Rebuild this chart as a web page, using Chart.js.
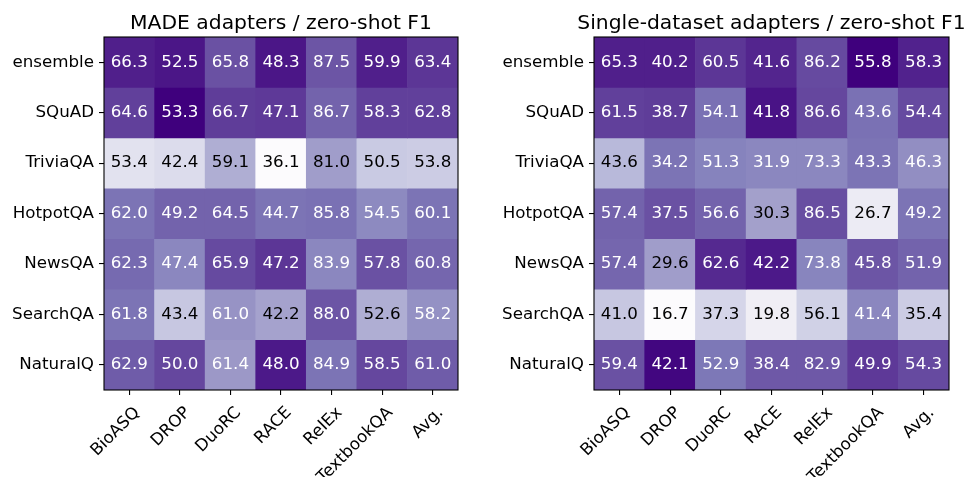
<!DOCTYPE html>
<html>
<head>
<meta charset="utf-8">
<script src="https://cdn.jsdelivr.net/npm/chart.js@4.4.0/dist/chart.umd.min.js"></script>
<style>
  body { margin: 0; background: #fff; }
  .wrap { position: absolute; top: 0; height: 477px; }
</style>
</head>
<body>
<div class="wrap" style="left:0;width:484px"><canvas id="madeChart"></canvas></div>
<div class="wrap" style="left:484px;width:483px"><canvas id="singleChart"></canvas></div>
<script>
const targets = ["BioASQ", "DROP", "DuoRC", "RACE", "RelEx", "TextbookQA", "Avg."];
const sources = ["ensemble", "SQuAD", "TriviaQA", "HotpotQA", "NewsQA", "SearchQA", "NaturalQ"];

// zero-shot F1, rows = sources, cols = targets
const madeF1 = [
  [66.3, 52.5, 65.8, 48.3, 87.5, 59.9, 63.4],
  [64.6, 53.3, 66.7, 47.1, 86.7, 58.3, 62.8],
  [53.4, 42.4, 59.1, 36.1, 81.0, 50.5, 53.8],
  [62.0, 49.2, 64.5, 44.7, 85.8, 54.5, 60.1],
  [62.3, 47.4, 65.9, 47.2, 83.9, 57.8, 60.8],
  [61.8, 43.4, 61.0, 42.2, 88.0, 52.6, 58.2],
  [62.9, 50.0, 61.4, 48.0, 84.9, 58.5, 61.0],
];
const singleF1 = [
  [65.3, 40.2, 60.5, 41.6, 86.2, 55.8, 58.3],
  [61.5, 38.7, 54.1, 41.8, 86.6, 43.6, 54.4],
  [43.6, 34.2, 51.3, 31.9, 73.3, 43.3, 46.3],
  [57.4, 37.5, 56.6, 30.3, 86.5, 26.7, 49.2],
  [57.4, 29.6, 62.6, 42.2, 73.8, 45.8, 51.9],
  [41.0, 16.7, 37.3, 19.8, 56.1, 41.4, 35.4],
  [59.4, 42.1, 52.9, 38.4, 82.9, 49.9, 54.3],
];

// colour level of each cell (0..1 on the Purples map)
const madeShade = [
  [0.90, 0.93, 0.75, 0.93, 0.74, 0.90, 0.83],
  [0.80, 1.00, 0.81, 0.82, 0.70, 0.80, 0.80],
  [0.20, 0.24, 0.43, 0.00, 0.49, 0.32, 0.31],
  [0.65, 0.70, 0.70, 0.65, 0.66, 0.57, 0.65],
  [0.68, 0.58, 0.77, 0.83, 0.58, 0.75, 0.69],
  [0.65, 0.33, 0.53, 0.47, 0.74, 0.43, 0.54],
  [0.72, 0.78, 0.51, 0.92, 0.65, 0.78, 0.72],
];
const singleShade = [
  [0.90, 0.90, 0.83, 0.88, 0.77, 1.00, 0.89],
  [0.80, 0.81, 0.66, 0.94, 0.78, 0.66, 0.77],
  [0.39, 0.65, 0.60, 0.58, 0.58, 0.65, 0.55],
  [0.70, 0.75, 0.70, 0.48, 0.76, 0.14, 0.65],
  [0.69, 0.49, 0.87, 0.92, 0.59, 0.74, 0.70],
  [0.33, 0.00, 0.27, 0.12, 0.29, 0.58, 0.31],
  [0.75, 0.98, 0.64, 0.73, 0.73, 0.82, 0.77],
];

const purpleStops = ["#fcfbfd", "#efedf5", "#dadaeb", "#bcbddc", "#9e9ac8", "#807dba", "#6a51a3", "#54278f", "#3f007d"];

function hexRgb(h) {
  return [1, 3, 5].map((i) => parseInt(h.slice(i, i + 2), 16));
}

function purples(t) {
  const pos = Math.max(0, Math.min(1, t)) * (purpleStops.length - 1);
  const i = Math.min(Math.floor(pos), purpleStops.length - 2);
  const f = pos - i;
  const a = hexRgb(purpleStops[i]);
  const b = hexRgb(purpleStops[i + 1]);
  const c = a.map((v, k) => Math.round(v + (b[k] - v) * f));
  return `rgb(${c[0]}, ${c[1]}, ${c[2]})`;
}

const FONT = "DejaVu Sans";

function makeHeatmap(canvasId, title, values, shade, yWidth, padRight) {
  const decor = {
    id: "decor",
    afterDatasetsDraw(chart) {
      const ctx = chart.ctx;
      const area = chart.chartArea;
      ctx.save();
      ctx.font = `16.7px "${FONT}"`;
      ctx.textAlign = "center";
      ctx.textBaseline = "middle";
      chart.data.datasets.forEach((ds, r) => {
        chart.getDatasetMeta(r).data.forEach((bar, c) => {
          const p = bar.getProps(["x", "y", "base"], true);
          ctx.fillStyle = shade[r][c] > 0.5 ? "#ffffff" : "#000000";
          ctx.fillText(values[r][c].toFixed(1), p.x, (p.y + p.base) / 2);
        });
      });
      ctx.strokeStyle = "#000";
      ctx.lineWidth = 1.1;
      ctx.strokeRect(area.left, area.top, area.right - area.left, area.bottom - area.top);
      ctx.font = `20.3px "${FONT}"`;
      ctx.fillStyle = "#000";
      ctx.textBaseline = "alphabetic";
      ctx.fillText(title, (area.left + area.right) / 2, area.top - 8);
      ctx.restore();
    },
  };

  new Chart(document.getElementById(canvasId), {
    type: "bar",
    data: {
      labels: targets,
      datasets: sources.map((name, r) => ({
        label: name,
        data: targets.map(() => [r - 0.5, r + 0.5]),
        backgroundColor: shade[r].map(purples),
        borderWidth: 0,
        barPercentage: 1,
        categoryPercentage: 1,
        grouped: false,
      })),
    },
    options: {
      responsive: true,
      maintainAspectRatio: false,
      animation: false,
      layout: { padding: { top: 37, right: padRight, left: 0, bottom: 0 } },
      plugins: {
        legend: { display: false },
        tooltip: { enabled: false },
      },
      scales: {
        x: {
          type: "category",
          grid: {
            offset: false,
            drawOnChartArea: false,
            drawTicks: true,
            tickLength: 5,
            color: "#000",
            lineWidth: 1.1,
          },
          border: { display: false },
          ticks: {
            autoSkip: false,
            minRotation: 45,
            maxRotation: 45,
            padding: 8,
            labelOffset: 8,
            color: "#000",
            font: { family: FONT, size: 16.7 },
          },
          afterFit: (s) => {
            s.height = 87;
          },
        },
        y: {
          type: "linear",
          min: -0.5,
          max: 6.5,
          reverse: true,
          afterBuildTicks: (s) => {
            s.ticks = sources.map((_, i) => ({ value: i }));
          },
          grid: {
            drawOnChartArea: false,
            drawTicks: true,
            tickLength: 5,
            color: "#000",
            lineWidth: 1.1,
          },
          border: { display: false },
          ticks: {
            padding: 5,
            color: "#000",
            font: { family: FONT, size: 16.7 },
            callback: (v) => sources[v],
          },
          afterFit: (s) => {
            s.width = yWidth;
          },
        },
      },
    },
    plugins: [decor],
  });
}

makeHeatmap("madeChart", "MADE adapters / zero-shot F1", madeF1, madeShade, 104, 26);
makeHeatmap("singleChart", "Single-dataset adapters / zero-shot F1", singleF1, singleShade, 110, 18);
</script>
</body>
</html>
